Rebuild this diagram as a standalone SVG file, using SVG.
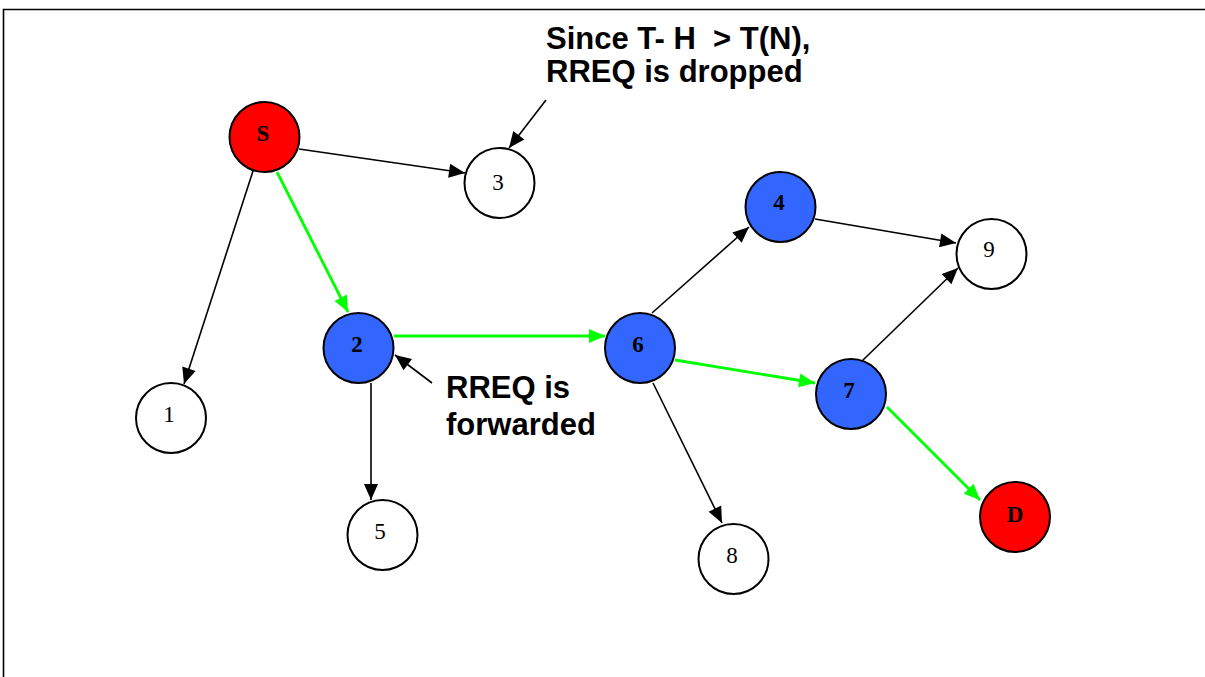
<svg xmlns="http://www.w3.org/2000/svg" width="1205" height="677" viewBox="0 0 1205 677">
<style>
.n{stroke:#000;stroke-width:2}
.w{fill:#fff}.b{fill:#3366FF}.r{fill:#FF0000}
.lb{font-family:"Liberation Serif","Times New Roman",serif;font-size:23px;text-anchor:middle;fill:#000}
.bd{font-weight:bold}
.e{stroke:#000;stroke-width:1.6;fill:none;marker-end:url(#ak)}
.g{stroke:#00FF00;stroke-width:2.8;fill:none;marker-end:url(#ag)}
.t{font-family:"Liberation Sans",Arial,sans-serif;font-weight:bold;font-size:31px;fill:#000;white-space:pre}
</style>
<defs>
<marker id="ak" markerUnits="userSpaceOnUse" markerWidth="20" markerHeight="16" refX="17" refY="8" orient="auto" viewBox="0 0 20 16">
<path d="M1,1 L17,8 L1,15 Z" fill="#000"/>
</marker>
<marker id="ag" markerUnits="userSpaceOnUse" markerWidth="20" markerHeight="16" refX="17" refY="8" orient="auto" viewBox="0 0 20 16">
<path d="M1,1 L17,8 L1,15 Z" fill="#00FF00"/>
</marker>
</defs>
<rect x="0" y="0" width="1205" height="677" fill="#fff"/>
<path d="M3.5,677 L3.5,9.5 L1205,9.5" fill="none" stroke="#000" stroke-width="1.6"/>
<g id="connectors">
<line class="e" x1="299" y1="149" x2="465" y2="173"/>
<line class="e" x1="253" y1="171" x2="184" y2="384"/>
<line class="g" x1="277" y1="172" x2="348" y2="312"/>
<line class="g" x1="394" y1="336" x2="605" y2="336"/>
<line class="e" x1="371" y1="383" x2="371" y2="500"/>
<line class="e" x1="652" y1="313" x2="749" y2="227"/>
<line class="e" x1="815" y1="219" x2="956" y2="243"/>
<line class="e" x1="862" y1="361" x2="958" y2="268"/>
<line class="g" x1="675" y1="360" x2="815" y2="383"/>
<line class="g" x1="887" y1="407" x2="980" y2="500"/>
<line class="e" x1="653" y1="383" x2="722" y2="523"/>
<line class="e" x1="546" y1="100" x2="509" y2="148"/>
<line class="e" x1="432" y1="383" x2="395" y2="355"/>
</g>
<g id="node-S"><circle class="n r" cx="264.5" cy="137" r="35"/><text class="lb bd" x="263" y="141">S</text></g>
<g id="node-3"><circle class="n w" cx="499.5" cy="183" r="35"/><text class="lb" x="498" y="190">3</text></g>
<g id="node-1"><circle class="n w" cx="171" cy="418" r="35"/><text class="lb" x="169" y="422">1</text></g>
<g id="node-2"><circle class="n b" cx="358.5" cy="348" r="35"/><text class="lb bd" x="357" y="352">2</text></g>
<g id="node-5"><circle class="n w" cx="382.5" cy="535" r="35"/><text class="lb" x="380" y="539">5</text></g>
<g id="node-6"><circle class="n b" cx="640" cy="348" r="35"/><text class="lb bd" x="638" y="352">6</text></g>
<g id="node-4"><circle class="n b" cx="780.5" cy="207" r="35"/><text class="lb bd" x="779" y="210">4</text></g>
<g id="node-9"><circle class="n w" cx="991.5" cy="254" r="35"/><text class="lb" x="989" y="257">9</text></g>
<g id="node-7"><circle class="n b" cx="851" cy="394" r="35"/><text class="lb bd" x="849" y="398">7</text></g>
<g id="node-D"><circle class="n r" cx="1015" cy="517" r="35"/><text class="lb bd" x="1015" y="522">D</text></g>
<g id="node-8"><circle class="n w" cx="733.5" cy="559" r="35"/><text class="lb" x="732" y="563">8</text></g>
<g id="label-dropped"><text class="t" x="546" y="49">Since T- H  &gt; T(N),</text><text class="t" x="546" y="82">RREQ is dropped</text></g>
<g id="label-forwarded"><text class="t" x="446" y="398">RREQ is</text><text class="t" x="446" y="435">forwarded</text></g>
</svg>
